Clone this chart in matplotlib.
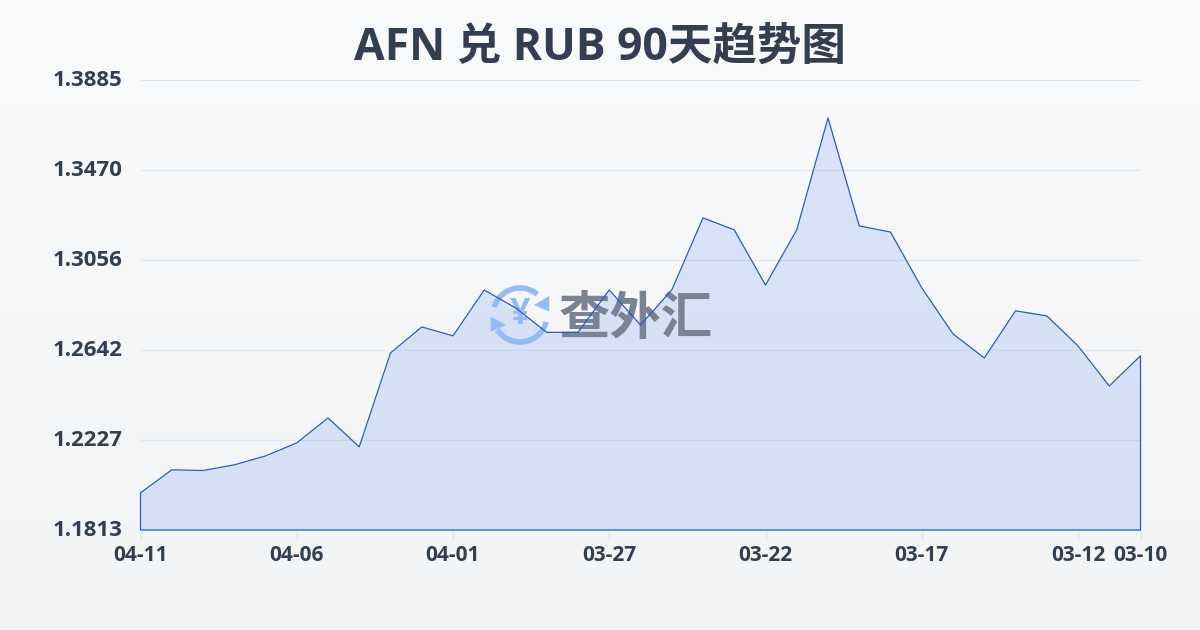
import numpy as np
import matplotlib
matplotlib.use('Agg')
import matplotlib.pyplot as plt
from matplotlib.patches import Arc, Polygon
from matplotlib.transforms import ScaledTranslation

plt.rcParams['font.family'] = ['Open Sans', 'Noto Sans CJK SC', 'DejaVu Sans']

title = 'AFN 兑 RUB 90天趋势图'
rates = [1.1984, 1.2090, 1.2087, 1.2113, 1.2154, 1.2214, 1.2329, 1.2196, 1.2628,
         1.2748, 1.2707, 1.2918, 1.2836, 1.2723, 1.2723, 1.2918, 1.2757, 1.2918,
         1.3250, 1.3195, 1.2941, 1.3195, 1.3710, 1.3213, 1.3185, 1.2928, 1.2716,
         1.2605, 1.2822, 1.2799, 1.2661, 1.2476, 1.2615]
days = list(range(len(rates)))
x_tick_pos = [0, 5, 10, 15, 20, 25, 30, 32]
x_tick_labels = ['04-11', '04-06', '04-01', '03-27', '03-22', '03-17', '03-12', '03-10']
y_ticks = [1.1813, 1.2227, 1.2642, 1.3056, 1.3470, 1.3885]
y_tick_labels = ['1.1813', '1.2227', '1.2642', '1.3056', '1.3470', '1.3885']

text_color = '#333f50'
line_color = '#2a5cbf'
logo_color = '#93bbfa'

fig = plt.figure(figsize=(12, 6.3), dpi=100)

# page background, light vertical gradient, in pixel coordinates
bg = fig.add_axes([0, 0, 1, 1], zorder=0)
bg.set_xlim(0, 1200)
bg.set_ylim(0, 630)
bg.axis('off')
grad = np.linspace(0, 1, 256).reshape(-1, 1)
top = np.array([249, 250, 251]) / 255
bottom = np.array([243, 244, 246]) / 255
bg.imshow(top + (bottom - top) * grad[:, :, None], extent=[0, 1200, 0, 630], aspect='auto')

plot_rect = [140.5 / 1200, 1 - 530 / 630, 1000 / 1200, 450 / 630]
ax = fig.add_axes(plot_rect, zorder=1)
ax.patch.set_alpha(0)
ax.set_xlim(0, 32)
ax.set_ylim(y_ticks[0], y_ticks[-1])
for s in ax.spines.values():
    s.set_visible(False)

ax.set_yticks(y_ticks, y_tick_labels, fontsize=16, fontweight='bold', color=text_color)
ax.set_xticks(x_tick_pos, x_tick_labels, fontsize=15, fontweight='bold', color=text_color)
ax.tick_params(axis='y', length=0, pad=13)
ax.tick_params(axis='x', length=7, width=1, color='#e3e6eb', pad=4)
ax.grid(axis='y', color='#e3e6eb', linewidth=0.8, zorder=1)
ax.set_axisbelow(True)

# y labels sit about 2px above their gridlines
for lab in ax.get_yticklabels():
    lab.set_transform(lab.get_transform() + ScaledTranslation(0, 2 / 100, fig.dpi_scale_trans))

ax.fill_between(days, rates, y_ticks[0], color='#2563eb', alpha=0.14, linewidth=0, zorder=2)

# watermark, sits between the fill and the line
wm = fig.add_axes([0, 0, 1, 1], zorder=2)
wm.set_xlim(0, 1200)
wm.set_ylim(0, 630)
wm.axis('off')
wm.patch.set_alpha(0)
wm.add_patch(Arc((520, 315), 54, 54, theta1=50, theta2=163, color=logo_color, lw=4))
wm.add_patch(Arc((520, 315), 54, 54, theta1=213, theta2=345, color=logo_color, lw=4))
wm.add_patch(Polygon([(549.3, 334), (549.3, 318.3), (534, 325)], color=logo_color, lw=0))
wm.add_patch(Polygon([(490.7, 313.3), (490.7, 298.3), (506, 305)], color=logo_color, lw=0))
wm.text(520, 315, '¥', ha='center', va='center', fontsize=26, fontweight='bold', color=logo_color)
wm.text(636, 309, '查外汇', ha='center', va='center', fontsize=37, fontweight='bold', color='#7a8394')

# outline on its own axes so it stays above the watermark
top_ax = fig.add_axes(plot_rect, zorder=3)
top_ax.set_xlim(0, 32)
top_ax.set_ylim(y_ticks[0], y_ticks[-1])
top_ax.axis('off')
top_ax.patch.set_alpha(0)
top_ax.fill_between(days, rates, y_ticks[0], facecolor='none', edgecolor=line_color, linewidth=0.9,
                    clip_on=False)

fig.text(0.5, 1 - 48 / 630, title, ha='center', va='center', fontsize=32, fontweight='bold',
         color=text_color)

fig.savefig('out.png', dpi=100)
